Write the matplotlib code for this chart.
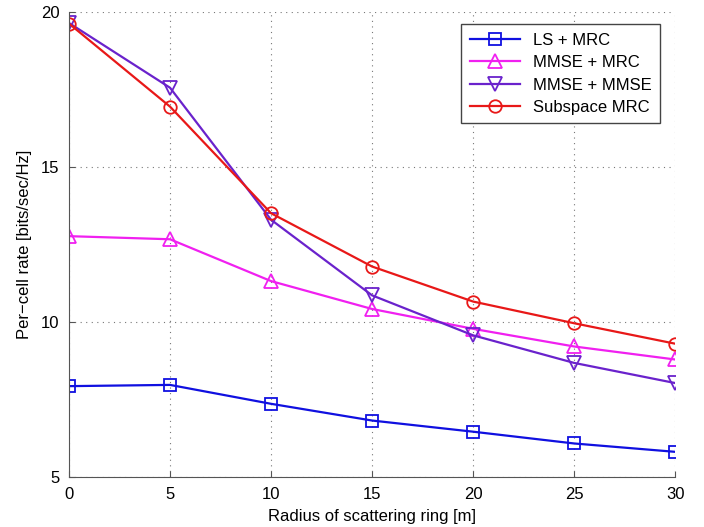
import numpy as np
import matplotlib
matplotlib.use('Agg')
import matplotlib.pyplot as plt

plt.rcParams['font.family'] = ['Liberation Sans', 'DejaVu Sans']

radius = [0, 5, 10, 15, 20, 25, 30]

ls_mrc     = [7.93, 7.97, 7.36, 6.82, 6.46, 6.08, 5.81]
mmse_mrc   = [12.77, 12.67, 11.32, 10.42, 9.78, 9.21, 8.79]
mmse_mmse  = [19.65, 17.56, 13.30, 10.86, 9.57, 8.68, 8.03]
subspace   = [19.63, 16.95, 13.51, 11.79, 10.66, 9.96, 9.30]

labels = ['LS + MRC', 'MMSE + MRC', 'MMSE + MMSE', 'Subspace MRC']
xticks = [0, 5, 10, 15, 20, 25, 30]
yticks = [5, 10, 15, 20]

fig = plt.figure(figsize=(7.04, 5.27), dpi=100)
ax = fig.add_axes([0.098, 0.095, 0.861, 0.882])

ax.plot(radius, ls_mrc, color='#1010e0', lw=1.6, marker='s', ms=9, mfc='none', mew=1.3, label=labels[0])
ax.plot(radius, mmse_mrc, color='#f020f0', lw=1.6, marker='^', ms=10, mfc='none', mew=1.3, label=labels[1])
ax.plot(radius, mmse_mmse, color='#6a22cc', lw=1.6, marker='v', ms=10, mfc='none', mew=1.3, label=labels[2])
ax.plot(radius, subspace, color='#e81818', lw=1.6, marker='o', ms=9, mfc='none', mew=1.3, label=labels[3])

ax.set_xlim(0, 30)
ax.set_ylim(5, 20)
ax.set_xticks(xticks)
ax.set_yticks(yticks)
ax.grid(True, linestyle=(0, (1, 4)), color='#777777', lw=0.8)
ax.tick_params(direction='in', labelsize=12, length=4, pad=7, color='#555555')
ax.spines['top'].set_visible(False)
ax.spines['right'].set_visible(False)
ax.spines['left'].set_color('#555555')
ax.spines['bottom'].set_color('#555555')

ax.set_xlabel('Radius of scattering ring [m]', fontsize=12, labelpad=5)
ax.set_ylabel('Per\u2212cell rate [bits/sec/Hz]', fontsize=12, labelpad=6)

leg = ax.legend(loc='upper right', bbox_to_anchor=(0.975, 0.974), borderaxespad=0,
                fontsize=12, fancybox=False, framealpha=1, edgecolor='#444444',
                handlelength=3, borderpad=0.5, labelspacing=0.45)
leg.get_frame().set_linewidth(1.0)

fig.savefig('out.png', dpi=100)
